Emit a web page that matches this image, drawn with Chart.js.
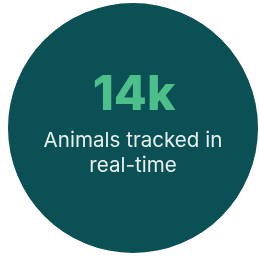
<!DOCTYPE html>
<html>
<head>
<meta charset="utf-8">
<script src="https://cdn.jsdelivr.net/npm/chart.js@4/dist/chart.umd.min.js"></script>
<style>
  html, body { margin: 0; padding: 0; background: #ffffff; }
  #wrap { width: 259px; height: 257px; position: relative; }
</style>
</head>
<body>
<div id="wrap"><canvas id="statChart"></canvas></div>
<script>
// Données du graphique
const categories = ['Animals tracked in real-time'];
const valeurs = [14000];
const libelleValeur = ['14k'];
const lignesTexte = ['Animals tracked in', 'real-time'];

// Texte au centre du cercle
const texteCentre = {
    id: 'texteCentre',
    afterDatasetsDraw(chart) {
        const arc = chart.getDatasetMeta(0).data[0];
        if (!arc) return;
        const ctx = chart.ctx;
        const cx = arc.x;
        const cy = arc.y;
        ctx.save();
        ctx.textAlign = 'center';
        ctx.textBaseline = 'alphabetic';
        ctx.fillStyle = '#4dbf8b';
        ctx.font = '800 48px Inter';
        ctx.fillText(libelleValeur[0], cx + 1, cy - 18);
        ctx.fillStyle = '#e6f0ef';
        ctx.font = '400 20.6px Inter';
        ctx.fillText(lignesTexte[0], cx, cy + 19);
        ctx.fillText(lignesTexte[1], cx, cy + 44);
        ctx.restore();
    }
};

document.addEventListener('DOMContentLoaded', function() {
    const ctx = document.getElementById('statChart');
    new Chart(ctx, {
        type: 'pie',
        data: {
            labels: categories,
            datasets: [{
                data: valeurs,
                backgroundColor: ['#0b5054'],
                borderWidth: 0
            }]
        },
        options: {
            responsive: true,
            maintainAspectRatio: false,
            animation: false,
            layout: { padding: { left: 7, right: 0, top: 3, bottom: 4 } },
            plugins: {
                legend: { display: false },
                tooltip: { enabled: false }
            }
        },
        plugins: [texteCentre]
    });
});
</script>
</body>
</html>
